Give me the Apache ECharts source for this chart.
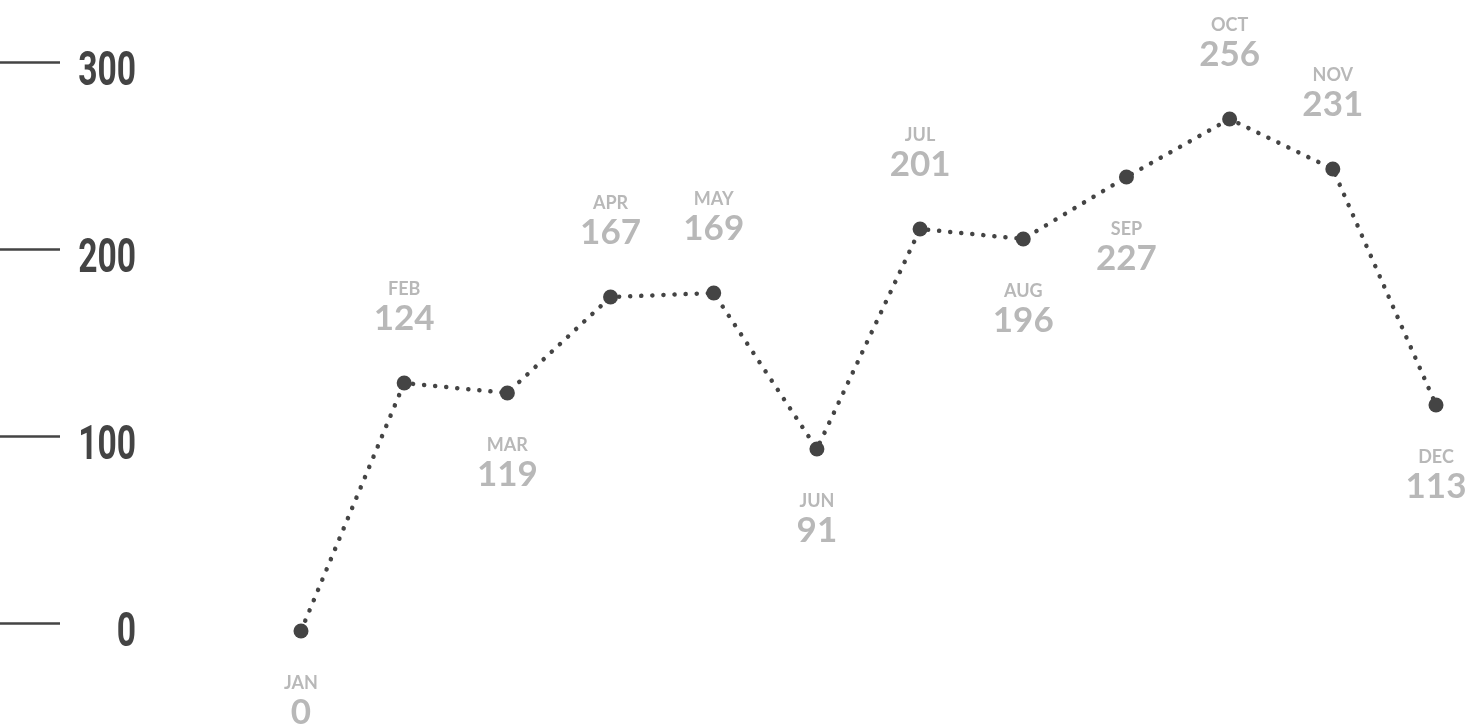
<!DOCTYPE html>
<html>
<head>
<meta charset="utf-8">
<script src="https://cdn.jsdelivr.net/npm/echarts@6/dist/echarts.min.js"></script>
<style>
  html, body { margin: 0; padding: 0; background: #fff; }
  #chart { width: 1471px; height: 726px; }
</style>
</head>
<body>
<div id="chart"></div>
<script>
// Monthly values
const months = ['JAN', 'FEB', 'MAR', 'APR', 'MAY', 'JUN', 'JUL', 'AUG', 'SEP', 'OCT', 'NOV', 'DEC'];
const values = [0, 124, 119, 167, 169, 91, 201, 196, 227, 256, 231, 113];
// Where each month's label sits relative to its point
const labelSides = ['bottom', 'top', 'bottom', 'top', 'top', 'bottom', 'top', 'bottom', 'bottom', 'top', 'top', 'bottom'];
// Scale ticks on the left
const scaleTicks = [0, 100, 200, 300];

const chart = echarts.init(document.getElementById('chart'), null, { renderer: 'canvas' });

const seriesData = values.map((v, i) => ({
  value: v,
  label: {
    position: labelSides[i],
    distance: labelSides[i] === 'top' ? 39 : 34
  }
}));

chart.setOption({
  backgroundColor: '#ffffff',
  animation: false,
  grid: [
    { left: 0, right: 1300, top: 62, bottom: 103 },
    { left: 301, right: 35, top: 31, bottom: 95 }
  ],
  xAxis: [
    { gridIndex: 0, type: 'value', show: false },
    { gridIndex: 1, type: 'category', data: months, boundaryGap: false, show: false }
  ],
  yAxis: [
    {
      gridIndex: 0,
      type: 'value',
      min: scaleTicks[0],
      max: scaleTicks[scaleTicks.length - 1],
      interval: 100,
      axisLine: { show: false },
      splitLine: { show: false },
      axisTick: {
        show: true,
        inside: true,
        length: 60,
        lineStyle: { color: '#444444', width: 2.5 }
      },
      // tick numbers are drawn below as narrowed text
      axisLabel: { show: false }
    },
    { gridIndex: 1, type: 'value', min: 0, max: 300, show: false }
  ],
  series: [
    {
      type: 'line',
      xAxisIndex: 1,
      yAxisIndex: 1,
      data: seriesData,
      symbol: 'circle',
      symbolSize: 15,
      itemStyle: { color: '#444444' },
      lineStyle: {
        color: '#444444',
        width: 4.5,
        type: [0.1, 11],
        cap: 'round'
      },
      label: {
        show: true,
        align: 'center',
        formatter: (p) => '{m|' + months[p.dataIndex] + '}\n{v|' + p.value + '}',
        rich: {
          m: {
            fontFamily: 'Lato, sans-serif',
            fontWeight: 'bold',
            fontSize: 18,
            lineHeight: 22,
            color: '#b8b8b8',
            align: 'center'
          },
          v: {
            fontFamily: 'Lato, sans-serif',
            fontWeight: 'bold',
            fontSize: 35,
            lineHeight: 36,
            color: '#b8b8b8',
            align: 'center'
          }
        }
      }
    }
  ]
});

// Condensed tick numbers, placed on the scale axis just below each tick line
const tickTexts = scaleTicks.map((t) => {
  const py = chart.convertToPixel({ yAxisIndex: 0 }, t);
  return {
    type: 'text',
    x: 136,
    y: py + 11,
    scaleX: 0.7,
    silent: true,
    style: {
      text: String(t),
      fontFamily: 'Roboto, sans-serif',
      fontWeight: 'bold',
      fontSize: 48,
      fill: '#444444',
      align: 'right',
      verticalAlign: 'middle'
    }
  };
});
chart.setOption({ graphic: tickTexts });
</script>
</body>
</html>
